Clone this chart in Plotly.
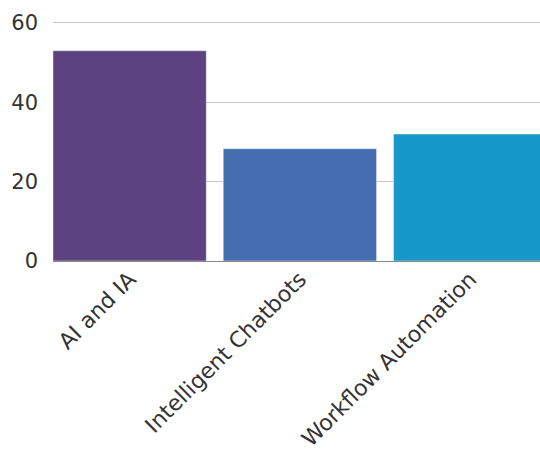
import plotly.graph_objects as go

categories = ["AI and IA", "Intelligent Chatbots", "Workflow Automation"]
values = [53, 28.3, 32]
colors = ["#5C4280", "#436DAE", "#1699C8"]

fig = go.Figure(go.Bar(x=categories, y=values, marker_color=colors, width=0.9))

fig.update_layout(
    width=540, height=455,
    margin=dict(l=53, r=0, t=19, b=194),
    plot_bgcolor="white", paper_bgcolor="white",
    font=dict(family="DejaVu Sans", size=21, color="#333333"),
    showlegend=False,
    bargap=0.1,
)
fig.update_xaxes(range=[-0.45, 2.41], tickangle=-45, showgrid=False,
                 tickfont=dict(size=22, color="#333333"))
fig.update_yaxes(range=[0, 61], tickvals=[0, 20, 40, 60], showgrid=True,
                 gridcolor="#C8C8C8", gridwidth=1, zeroline=True,
                 zerolinecolor="#888888", zerolinewidth=1,
                 ticklabelstandoff=14, tickfont=dict(size=21, color="#333333"))

fig.write_html("out.html")
